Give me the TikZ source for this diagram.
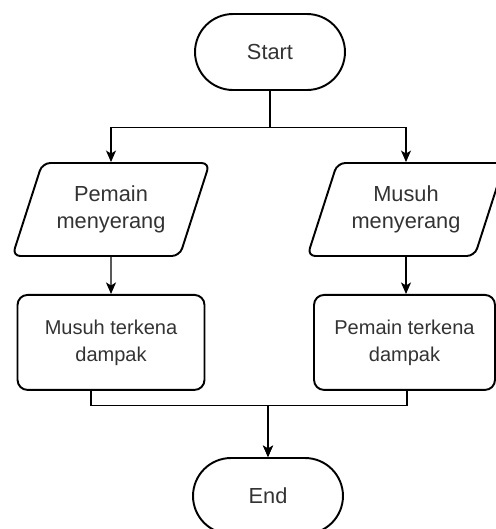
\documentclass[tikz,border=0pt]{standalone}
\usepackage{fontspec}
\setmainfont{Liberation Sans}
\usetikzlibrary{arrows.meta,positioning,shapes.geometric}

\begin{document}
\begin{tikzpicture}[x=0.02cm, y=-0.02cm, >={Stealth[length=2.3mm,width=2mm,inset=0.6mm]},
    term node/.style={rectangle, draw, line width=1.1pt, rounded corners=0.76cm, minimum width=3cm, minimum height=1.52cm, text=black!80, font=\fontsize{12.4}{15.4}\selectfont},
    io node/.style={trapezium, trapezium left angle=66, trapezium right angle=114, trapezium stretches=true, draw, line width=1.1pt, rounded corners=1.6mm, minimum width=3.96cm, minimum height=1.86cm, align=center, text=black!80, font=\fontsize{12.4}{15.4}\selectfont},
    proc node/.style={rectangle, draw, line width=1.1pt, rounded corners=2mm, minimum width=3.74cm, minimum height=1.9cm, align=center, text=black!80, font=\fontsize{11.4}{15.4}\selectfont},
    line/.style={line width=0.6pt}]
    \path[use as bounding box] (0,0) rectangle (496,529);

    \node[term node] (S1) at (270,52) {Start};
    \node[io node] (S2) at (111,209.5) {Pemain\\menyerang};
    \node[io node] (S3) at (406,209.5) {Musuh\\menyerang};
    \node[proc node] (S4) [below=0.74cm of S2] {Musuh terkena\\dampak};
    \node[proc node, minimum width=3.62cm] (S5) [below=0.74cm of S3, xshift=-0.03cm] {Pemain terkena\\dampak};
    \node[term node] (S6) at (268,496) {End};

    \draw[line, ->] (S1.south) -- ++(0,37) -| (S2.north);
    \draw[line, ->] (S1.south) -- ++(0,37) -| (S3.north);
    \draw[line, ->] (S2) -- (S4);
    \draw[line, ->] (S3.south) -- (S3.south |- S5.north);
    \draw[line, ->] ([xshift=-0.4cm]S4.south) -- ++(0,15) -| (S6.north);
    \draw[line, ->] ([xshift=0.05cm]S5.south) -- ++(0,15) -| (S6.north);
\end{tikzpicture}
\end{document}
